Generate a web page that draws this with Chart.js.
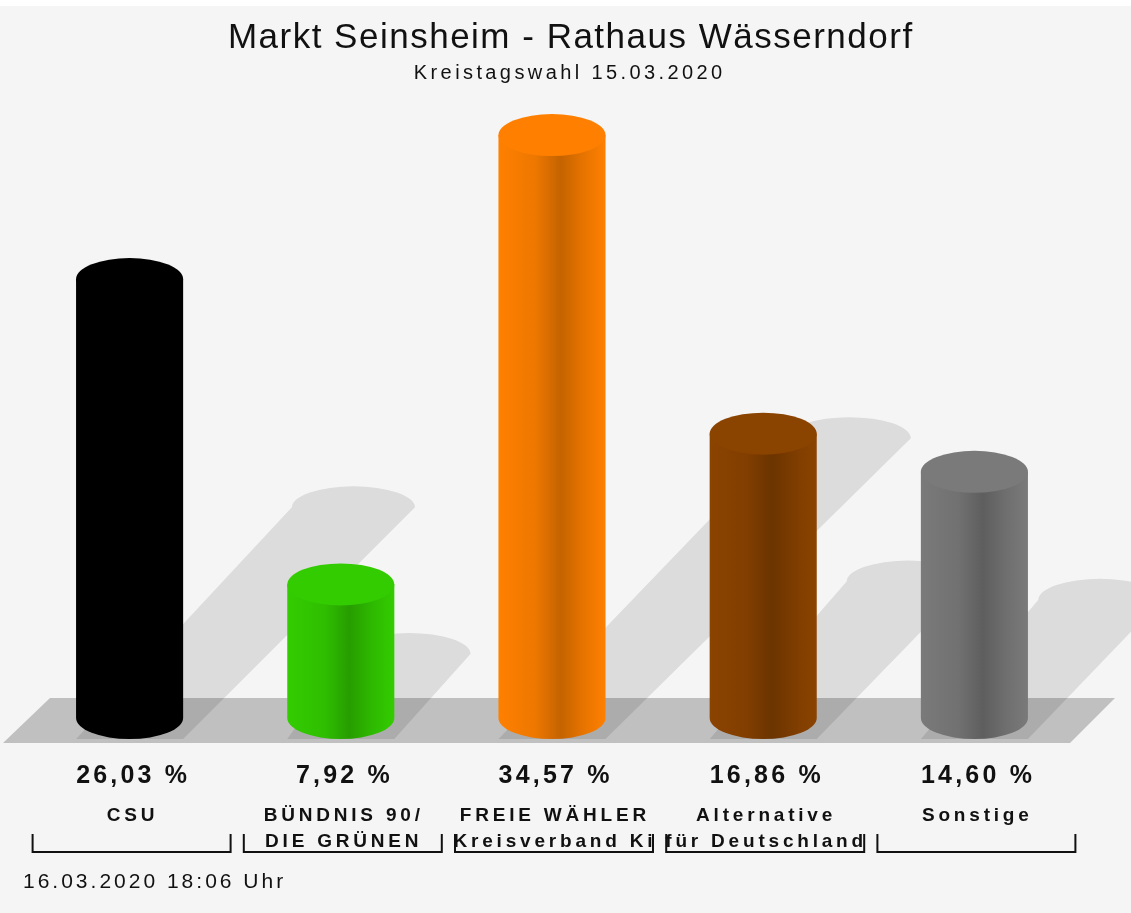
<!DOCTYPE html>
<html>
<head>
<meta charset="utf-8">
<script src="https://cdn.jsdelivr.net/npm/chart.js@4"></script>
<style>
  body { margin: 0; background: #f5f5f5; }
  #chart { display: block; }
</style>
</head>
<body>
<canvas id="chart" width="1131" height="913"></canvas>
<script>
const title = 'Markt Seinsheim - Rathaus Wässerndorf';
const subtitle = 'Kreistagswahl 15.03.2020';
const timestamp = '16.03.2020 18:06 Uhr';

const parties = [
  ['CSU'],
  ['BÜNDNIS 90/', 'DIE GRÜNEN'],
  ['FREIE WÄHLER', 'Kreisverband Ki'],
  ['Alternative', 'für Deutschland'],
  ['Sonstige']
];
const percent = [26.03, 7.92, 34.57, 16.86, 14.60];
const colors = ['#000000', '#33cc00', '#ff8000', '#8b4300', '#7a7a7a'];

const ctx = document.getElementById('chart').getContext('2d');

// darken a hex colour by factor f
function shade(hex, f){
  let n = parseInt(hex.slice(1), 16);
  let r = Math.round(((n >> 16) & 255) * f);
  let g = Math.round(((n >> 8) & 255) * f);
  let b = Math.round((n & 255) * f);
  return 'rgb(' + r + ',' + g + ',' + b + ')';
}

function spacedText(c, text, x, y, font, spacing, align){
  c.font = font;
  c.letterSpacing = spacing + 'px';
  let w = c.measureText(text).width - spacing;
  let sx = x;
  if(align === 'center') sx = x - w / 2;
  c.textAlign = 'left';
  c.fillText(text, sx, y);
  c.letterSpacing = '0px';
}

const cylinders = {
  id: 'cylinders',
  beforeDraw(chart){
    const c = chart.ctx;
    c.save();
    c.fillStyle = '#f5f5f5';
    c.fillRect(0, 0, chart.width, chart.height);
    c.fillStyle = '#ffffff';
    c.fillRect(0, 0, chart.width, 6);
    c.restore();
  },
  afterDatasetsDraw(chart){
    const c = chart.ctx;
    const xs = chart.scales.x;
    const yBase = chart.scales.y.getPixelForValue(0);
    const bars = chart.getDatasetMeta(0).data;
    const ry = 21;
    c.save();

    // floor
    c.fillStyle = '#c0c0c0';
    c.beginPath();
    c.moveTo(xs.left - 21, yBase + 25);
    c.lineTo(xs.left + 26, yBase - 20);
    c.lineTo(xs.right + 35, yBase - 20);
    c.lineTo(xs.right - 10, yBase + 25);
    c.closePath();
    c.fill();

    // shadows
    c.fillStyle = 'rgba(0,0,0,0.1)';
    bars.forEach(function(bar){
      const rx = bar.width / 2;
      const h = bar.base - bar.y;
      const y0 = bar.base + ry;
      const tx = bar.x + h * 0.51;
      const ty = bar.base - h * 0.48;
      c.beginPath();
      c.moveTo(bar.x - rx, y0);
      c.lineTo(bar.x + rx, y0);
      c.lineTo(tx + rx * 1.15, ty);
      c.ellipse(tx, ty, rx * 1.15, ry, 0, 0, Math.PI, true);
      c.closePath();
      c.fill();
    });

    // cylinder bodies
    bars.forEach(function(bar, i){
      const col = colors[i];
      const rx = bar.width / 2;
      const g = c.createLinearGradient(bar.x - rx, 0, bar.x + rx, 0);
      g.addColorStop(0, col);
      g.addColorStop(0.35, shade(col, 0.93));
      g.addColorStop(0.58, shade(col, 0.77));
      g.addColorStop(0.8, shade(col, 0.91));
      g.addColorStop(1, col);
      c.fillStyle = g;
      c.beginPath();
      c.moveTo(bar.x - rx, bar.y);
      c.lineTo(bar.x - rx, bar.base);
      c.ellipse(bar.x, bar.base, rx, ry, 0, Math.PI, 0, true);
      c.lineTo(bar.x + rx, bar.y);
      c.closePath();
      c.fill();
      c.fillStyle = col;
      c.beginPath();
      c.ellipse(bar.x, bar.y, rx, ry, 0, 0, Math.PI * 2);
      c.fill();
    });

    // texts below
    c.fillStyle = '#111111';
    c.textBaseline = 'alphabetic';
    bars.forEach(function(bar, i){
      const val = percent[i].toFixed(2).replace('.', ',') + ' %';
      spacedText(c, val, bar.x + 2, yBase + 65, 'bold 25px "Liberation Sans"', 3.2, 'center');
      parties[i].forEach(function(line, j){
        spacedText(c, line, bar.x + 1, yBase + 103 + j * 26, 'bold 19px "Liberation Sans"', 3.8, 'center');
      });
    });

    // brackets
    c.strokeStyle = '#111111';
    c.lineWidth = 2;
    bars.forEach(function(bar){
      const l = bar.x - 97;
      const r = bar.x + 101;
      c.beginPath();
      c.moveTo(l, yBase + 116);
      c.lineTo(l, yBase + 134);
      c.lineTo(r, yBase + 134);
      c.lineTo(r, yBase + 116);
      c.stroke();
    });

    spacedText(c, timestamp, 23, yBase + 170, '21px "Liberation Sans"', 3, 'left');
    spacedText(c, title, 570, 48, '35px "Liberation Sans"', 1.5, 'center');
    spacedText(c, subtitle, 568, 79, '20px "Liberation Sans"', 3.4, 'center');
    c.restore();
  }
};

new Chart(ctx, {
  type: 'bar',
  data: {
    labels: parties,
    datasets: [{
      data: percent,
      backgroundColor: 'rgba(0,0,0,0)',
      borderWidth: 0,
      barPercentage: 0.507,
      categoryPercentage: 1
    }]
  },
  options: {
    responsive: false,
    animation: false,
    layout: { padding: { top: 111, bottom: 195, left: 24, right: 51 } },
    plugins: {
      legend: { display: false },
      title: { display: false },
      tooltip: { enabled: false }
    },
    scales: {
      x: { display: false },
      y: { display: false, min: 0, max: 36 }
    }
  },
  plugins: [cylinders]
});
</script>
</body>
</html>
